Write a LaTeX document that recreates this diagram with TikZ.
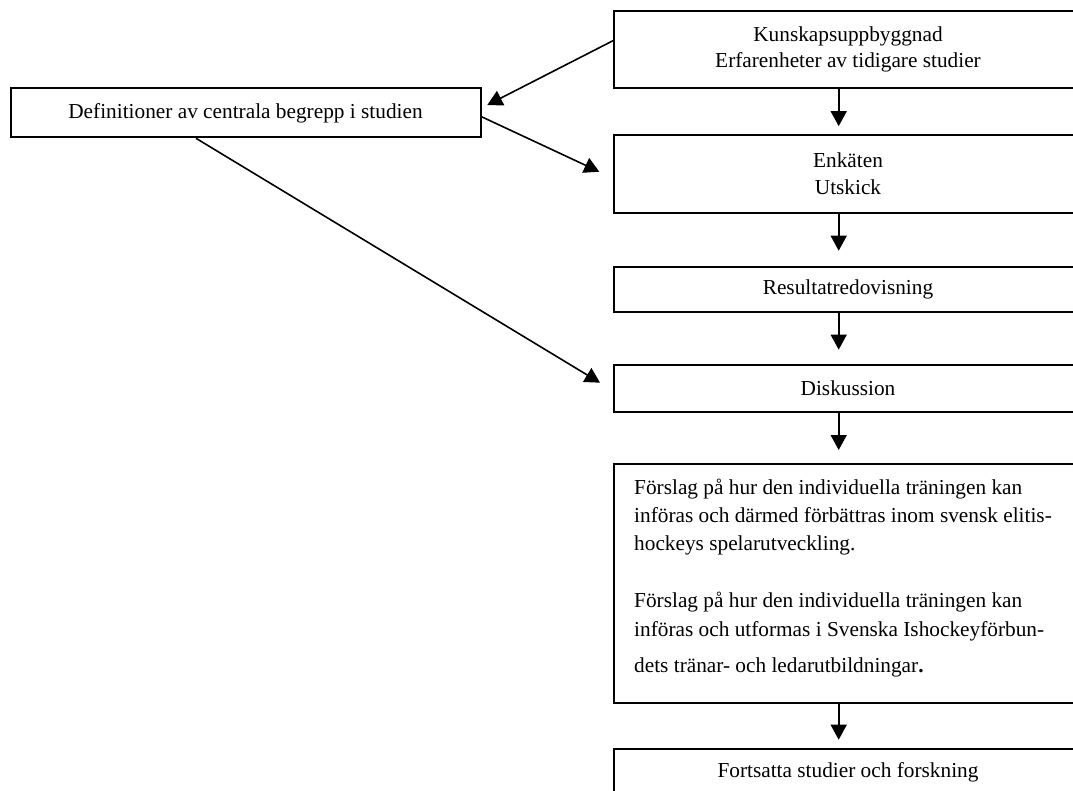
\documentclass[tikz,border=0pt]{standalone}
\usepackage{fontspec}
\setmainfont{Liberation Serif}
\usetikzlibrary{arrows.meta}
\begin{document}
\begin{tikzpicture}[x=1pt,y=-1pt,
  box/.style={draw, line width=2pt, minimum width=468pt, inner sep=0pt, align=center,
    font=\fontsize{21.3}{26.6}\selectfont, anchor=west},
  arr/.style={line width=1.6pt, -{Triangle[length=15pt,width=16pt]}},
  body/.style={anchor=north west, inner sep=0pt, align=left, font=\fontsize{21.3}{28.4}\selectfont}]
\useasboundingbox (0,0) rectangle (1073,790);
\clip (0,0) rectangle (1073,790);

\node[box, minimum height=77.3pt] (A) at (613,49.3) {Kunskapsuppbyggnad\\Erfarenheter av tidigare studier};
\node[box, minimum width=470pt, minimum height=49pt] (B) at (9.5,112.8) {Definitioner av centrala begrepp i studien};
\node[box, minimum height=77.7pt] (C) at (613,174) {Enkäten\\Utskick};
\node[box, minimum height=45.6pt] (D) at (613,289.5) {Resultatredovisning};
\node[box, minimum height=46.7pt] (E) at (613,388.3) {Diskussion};
\node[box, anchor=north west, minimum height=239.6pt] (F) at (613,462.7) {};
\node[body] (Ft) at (634,478.4) {Förslag på hur den individuella träningen kan\\
införas och därmed förbättras inom svensk elitis-\\
hockeys spelarutveckling.\\[28.4pt]
Förslag på hur den individuella träningen kan\\
införas och utformas i Svenska Ishockeyförbun-\\[8.3pt]
dets tränar- och ledarutbildningar\textbf{.}};
\node[box, minimum height=45.8pt] (G) at (613,772.2) {Fortsatta studier och forskning};

\coordinate (tAB) at (487.3,105);
\coordinate (tBC) at (599.3,171.7);
\coordinate (tBE) at (600,382.7);

\draw[arr] ([yshift=8.6pt]A.west) -- (tAB);
\draw[arr] ([yshift=-3.9pt]B.east) -- (tBC);
\draw[arr] ([xshift=-49.5pt]B.south) -- (tBE);

\draw[arr] ([xshift=-9.3pt]A.south) -- ([xshift=-9.3pt,yshift=8pt]C.north);
\draw[arr] ([xshift=-9.3pt]C.south) -- ([xshift=-9.3pt,yshift=15pt]D.north);
\draw[arr] ([xshift=-9.3pt]D.south) -- ([xshift=-9.3pt,yshift=14.3pt]E.north);
\draw[arr] ([xshift=-9.3pt]E.south) -- ([xshift=-9.3pt,yshift=12.7pt]F.north);
\draw[arr] ([xshift=-9.3pt]F.south) -- ([xshift=-9.3pt,yshift=8.6pt]G.north);
\end{tikzpicture}
\end{document}
